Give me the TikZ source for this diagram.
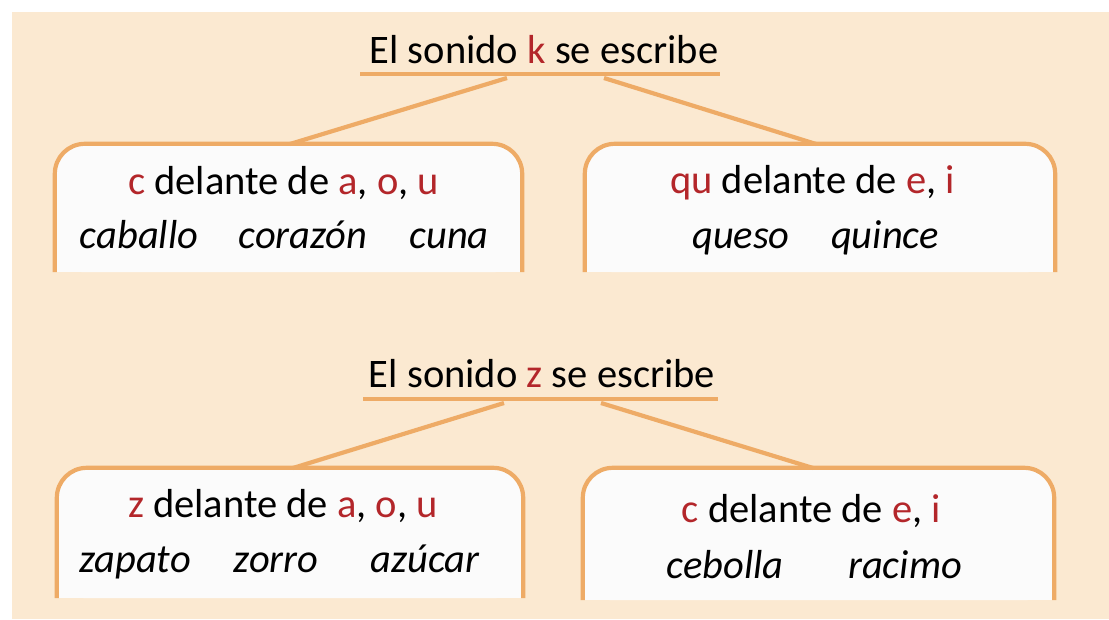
\documentclass[tikz,border=0pt]{standalone}
\usepackage{fontspec}
\setmainfont{Carlito}
\definecolor{bg}{HTML}{FBE9D1}
\definecolor{orn}{HTML}{EEAB66}
\definecolor{rd}{HTML}{B3262A}
\definecolor{boxw}{HTML}{FBFBFB}
\newcommand{\R}[1]{\textcolor{rd}{#1}}
\begin{document}
\begin{tikzpicture}[x=1pt,y=-1pt,
  ln/.style={draw=orn,line width=4.2pt},
  txt/.style={anchor=base,inner sep=0pt,font=\fontsize{40.5}{48}\selectfont},
  word/.style={txt,font=\fontsize{40.5}{48}\selectfont\itshape},
  boxarea/.style={draw=none,inner sep=0pt,minimum width=#1,minimum height=128pt}
]
\useasboundingbox (0,0) rectangle (1109,619);
\fill[white] (0,0) rectangle (1109,619);
\fill[bg] (12,12) rectangle (1109,619);

% ---- boxes (areas)
\node[boxarea=467pt] (kl) at (288.5,208) {};
\node[boxarea=470pt] (kr) at (820,208) {};
\node[boxarea=466pt,minimum height=130pt] (zl) at (290,533) {};
\node[boxarea=471pt,minimum height=132pt] (zr) at (818.5,534) {};

\foreach \b in {kl,kr,zl,zr}{
  \fill[boxw,rounded corners=30pt] (\b.north west) rectangle (\b.south east);
  \fill[boxw] ([yshift=40pt]\b.south west) rectangle (\b.south east);
  \draw[ln,rounded corners=30pt] (\b.south west) -- (\b.north west) -- (\b.north east) -- (\b.south east);
}

% ---- titles
\node[txt] (kt) at (544,63) {El sonido \R{k} se escribe};
\node[txt] (zt) at (542,387) {El sonido \R{z} se escribe};

\coordinate (kul) at (360,74);  \coordinate (kur) at (720,74);
\coordinate (zul) at (363,399); \coordinate (zur) at (718,399);
\draw[ln] (kul) -- (kur);
\draw[ln] (zul) -- (zur);

% ---- connectors
\coordinate (ka) at (507,78);  \coordinate (kla) at (290,144);
\coordinate (kb) at (604,78);  \coordinate (kra) at (816,144);
\coordinate (za) at (504,403); \coordinate (zla) at (293,468);
\coordinate (zb) at (601,403); \coordinate (zra) at (813,468);
\draw[ln] (ka) -- (kla);
\draw[ln] (kb) -- (kra);
\draw[ln] (za) -- (zla);
\draw[ln] (zb) -- (zra);

% ---- box texts
\node[txt] (kl1) at (283.5,194) {\R{c} delante de \R{a}, \R{o}, \R{u}};
\node[word] (w1) at (139,248) {caballo};
\node[word] (w2) at (303,248) {corazón};
\node[word] (w3) at (449,248) {cuna};

\node[txt] (kr1) at (812.5,193) {\R{qu} delante de \R{e}, \R{i}};
\node[word] (w4) at (741,248) {queso};
\node[word] (w5) at (885,248) {quince};

\node[txt] (zl1) at (283,517) {\R{z} delante de \R{a}, \R{o}, \R{u}};
\node[word] (w6) at (135,572) {zapato};
\node[word] (w7) at (276,572) {zorro};
\node[word] (w8) at (425,572) {azúcar};

\node[txt] (zr1) at (811.5,522) {\R{c} delante de \R{e}, \R{i}};
\node[word] (w9) at (725,578) {cebolla};
\node[word] (w10) at (905,578) {racimo};
\end{tikzpicture}
\end{document}
